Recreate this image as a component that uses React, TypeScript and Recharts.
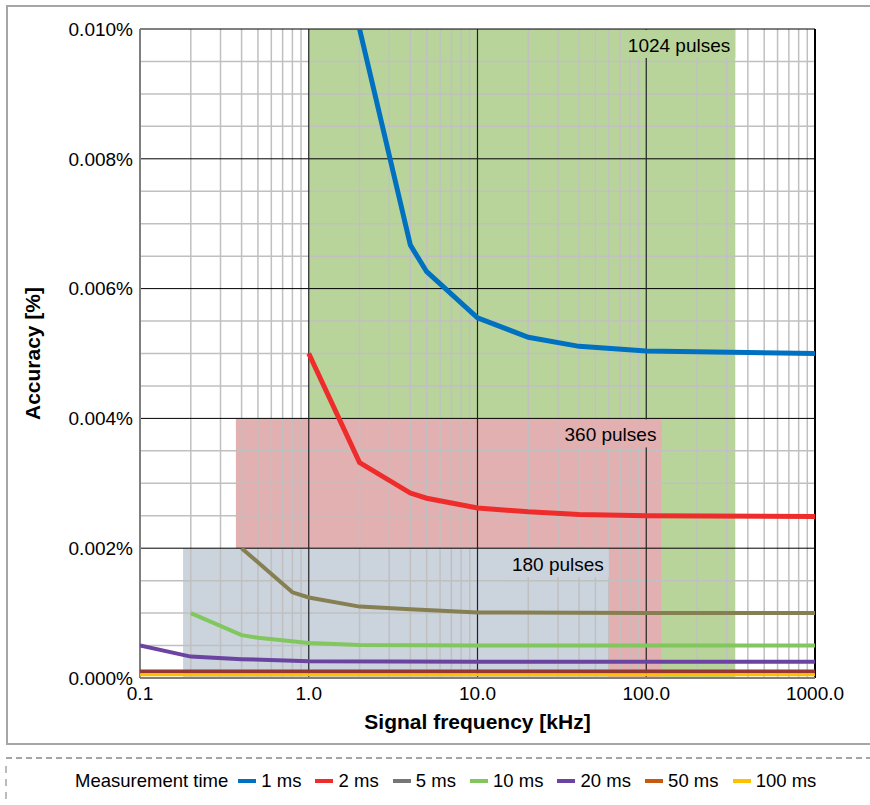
import { LineChart, Line, XAxis, YAxis, ReferenceArea, ReferenceLine } from 'recharts';

// frequency in kHz, accuracy in %
const ms1 = [
  { f: 2, v: 0.01 },
  { f: 4, v: 0.00667 },
  { f: 5, v: 0.00626 },
  { f: 10, v: 0.00555 },
  { f: 20, v: 0.00525 },
  { f: 40, v: 0.00511 },
  { f: 100, v: 0.00504 },
  { f: 1000, v: 0.005 },
];
const ms2 = [
  { f: 1, v: 0.005 },
  { f: 2, v: 0.00332 },
  { f: 4, v: 0.00285 },
  { f: 5, v: 0.00277 },
  { f: 10, v: 0.00262 },
  { f: 20, v: 0.00256 },
  { f: 40, v: 0.00252 },
  { f: 100, v: 0.0025 },
  { f: 1000, v: 0.00249 },
];
const ms5 = [
  { f: 0.4, v: 0.002 },
  { f: 0.8, v: 0.00132 },
  { f: 1, v: 0.00124 },
  { f: 2, v: 0.0011 },
  { f: 4, v: 0.00106 },
  { f: 10, v: 0.00101 },
  { f: 100, v: 0.001 },
  { f: 1000, v: 0.001 },
];
const ms10 = [
  { f: 0.2, v: 0.001 },
  { f: 0.4, v: 0.00066 },
  { f: 0.5, v: 0.00062 },
  { f: 1, v: 0.00054 },
  { f: 2, v: 0.00051 },
  { f: 10, v: 0.0005 },
  { f: 1000, v: 0.0005 },
];
const ms20 = [
  { f: 0.1, v: 0.0005 },
  { f: 0.2, v: 0.00033 },
  { f: 0.4, v: 0.00029 },
  { f: 1, v: 0.00026 },
  { f: 10, v: 0.00025 },
  { f: 1000, v: 0.00025 },
];
const ms50 = [
  { f: 0.1, v: 0.0001 },
  { f: 1000, v: 0.0001 },
];
const ms100 = [
  { f: 0.1, v: 0.00005 },
  { f: 1000, v: 0.00005 },
];

const series = [
  { name: '1 ms', data: ms1, color: '#0070C0', legend: '#0070C0', width: 5 },
  { name: '2 ms', data: ms2, color: '#EE2C2C', legend: '#EE2C2C', width: 5 },
  { name: '5 ms', data: ms5, color: '#857F52', legend: '#767676', width: 4 },
  { name: '10 ms', data: ms10, color: '#82C65E', legend: '#82C65E', width: 4 },
  { name: '20 ms', data: ms20, color: '#6A44A0', legend: '#6A44A0', width: 4 },
  { name: '50 ms', data: ms50, color: '#943634', legend: '#C55A11', width: 4 },
  { name: '100 ms', data: ms100, color: '#FFC000', legend: '#FFC000', width: 3 },
];

const regions = [
  { label: '1024 pulses', x1: 1, x2: 337, top: 0.01, fill: '#B9D49B' },
  { label: '360 pulses', x1: 0.37, x2: 123, top: 0.004, fill: '#E2B0B0' },
  { label: '180 pulses', x1: 0.18, x2: 60, top: 0.002, fill: '#CBD3DD' },
];

const freqTicks = [0.1, 1, 10, 100, 1000];
const accTicks = [0, 0.002, 0.004, 0.006, 0.008, 0.01];
const minorFreq = [0.1, 1, 10, 100].flatMap((d) => [2, 3, 4, 5, 6, 7, 8, 9].map((k) => d * k));
const minorAcc = [0.0005, 0.001, 0.0015, 0.0025, 0.003, 0.0035, 0.0045, 0.005, 0.0055, 0.0065, 0.007, 0.0075, 0.0085, 0.009, 0.0095];

const font = 'Liberation Sans, Arial, sans-serif';

const pulseLabel = (text: string, fill: string) => (props: any) => {
  const { x, y, width } = props.viewBox;
  const right = x + width - 5;
  const w = text.length * 9.6;
  return (
    <g>
      <rect x={right - w - 2} y={y + 1} width={w + 7} height={28} fill={fill} />
      <text x={right} y={y + 16} textAnchor="end" dominantBaseline="central" fontSize={19} fontFamily={font} fill="#000">
        {text}
      </text>
    </g>
  );
};

export default function App() {
  return (
    <div style={{ position: 'absolute', left: 0, top: 0, width: 870, height: 805, overflow: 'hidden', background: '#fff', fontFamily: font }}>
      <div style={{ position: 'absolute', left: 0, top: 0 }}>
        <LineChart width={870} height={745} margin={{ top: 29, right: 55, left: 20, bottom: 12 }}>
          <XAxis
            dataKey="f"
            type="number"
            scale="log"
            domain={[0.1, 1000]}
            ticks={freqTicks}
            tickFormatter={(v: number) => v.toFixed(1)}
            axisLine={false}
            tickLine={false}
            tickSize={0}
            tickMargin={9}
            height={55}
            allowDataOverflow
            tick={{ fontSize: 19, fill: '#000', fontFamily: font }}
            label={{ value: 'Signal frequency [kHz]', position: 'insideBottom', offset: 4, style: { fontSize: 21, fontWeight: 'bold', fill: '#000', fontFamily: font } }}
          />
          <YAxis
            type="number"
            domain={[0, 0.01]}
            ticks={accTicks}
            tickFormatter={(v: number) => v.toFixed(3) + '%'}
            axisLine={false}
            tickLine={false}
            tickSize={0}
            tickMargin={7}
            width={120}
            allowDataOverflow
            tick={{ fontSize: 19, fill: '#000', fontFamily: font }}
            label={{ value: 'Accuracy [%]', angle: -90, position: 'insideLeft', offset: 13, style: { textAnchor: 'middle', fontSize: 21, fontWeight: 'bold', fill: '#000', fontFamily: font } }}
          />
          {regions.map((r) => (
            <ReferenceArea key={r.label} x1={r.x1} x2={r.x2} y1={0} y2={r.top} fill={r.fill} fillOpacity={1} stroke="none" zIndex={100} />
          ))}
          {minorAcc.map((v) => (
            <ReferenceLine key={'ma' + v} y={v} stroke="#C0C0C0" strokeWidth={1.5} zIndex={150} />
          ))}
          {minorFreq.map((v) => (
            <ReferenceLine key={'mf' + v} x={v} stroke="#C0C0C0" strokeWidth={1.5} zIndex={150} />
          ))}
          {accTicks.slice(1).map((v) => (
            <ReferenceLine key={'ja' + v} y={v} stroke="#000" strokeWidth={1} zIndex={155} />
          ))}
          {freqTicks.slice(1, 4).map((v) => (
            <ReferenceLine key={'jf' + v} x={v} stroke="#222" strokeWidth={1.2} zIndex={155} />
          ))}
          <ReferenceLine x={0.1} stroke="#7F7F7F" strokeWidth={2} zIndex={156} />
          <ReferenceLine x={1000} stroke="#000" strokeWidth={2} zIndex={156} />
          <ReferenceLine y={0} stroke="#7F7F7F" strokeWidth={2} zIndex={156} />
          {regions.map((r) => (
            <ReferenceArea
              key={'l' + r.label}
              x1={r.x1}
              x2={r.x2}
              y1={0}
              y2={r.top}
              fill="none"
              fillOpacity={0}
              stroke="none"
              zIndex={160}
              label={pulseLabel(r.label, r.fill)}
            />
          ))}
          {series.map((s) => (
            <Line
              key={s.name}
              data={s.data}
              dataKey="v"
              name={s.name}
              type="linear"
              stroke={s.color}
              strokeWidth={s.width}
              dot={false}
              activeDot={false}
              isAnimationActive={false}
            />
          ))}
        </LineChart>
      </div>
      <div style={{ position: 'absolute', left: 6, top: 5, width: 900, height: 736, border: '2px solid #A6A6A6', pointerEvents: 'none' }} />
      <svg width={870} height={805} style={{ position: 'absolute', left: 0, top: 0, pointerEvents: 'none' }}>
        <line x1={6} y1={758} x2={870} y2={758} stroke="#A6A6A6" strokeWidth={2} strokeDasharray="6 4" />
        <line x1={6} y1={766} x2={6} y2={805} stroke="#A6A6A6" strokeWidth={1.5} strokeDasharray="7 6" />
      </svg>
      <div
        style={{
          position: 'absolute',
          left: 75,
          top: 770,
          height: 22,
          display: 'flex',
          alignItems: 'center',
          fontSize: 18.5,
          color: '#000',
          whiteSpace: 'pre',
        }}
      >
        <span style={{ marginRight: 10 }}>Measurement time</span>
        {series.map((s, i) => (
          <span key={s.name} style={{ display: 'flex', alignItems: 'center', marginRight: i < series.length - 1 ? 14 : 0 }}>
            <span style={{ display: 'inline-block', width: 18, height: 4, background: s.legend }} />
            <span>{' ' + s.name}</span>
          </span>
        ))}
      </div>
    </div>
  );
}
